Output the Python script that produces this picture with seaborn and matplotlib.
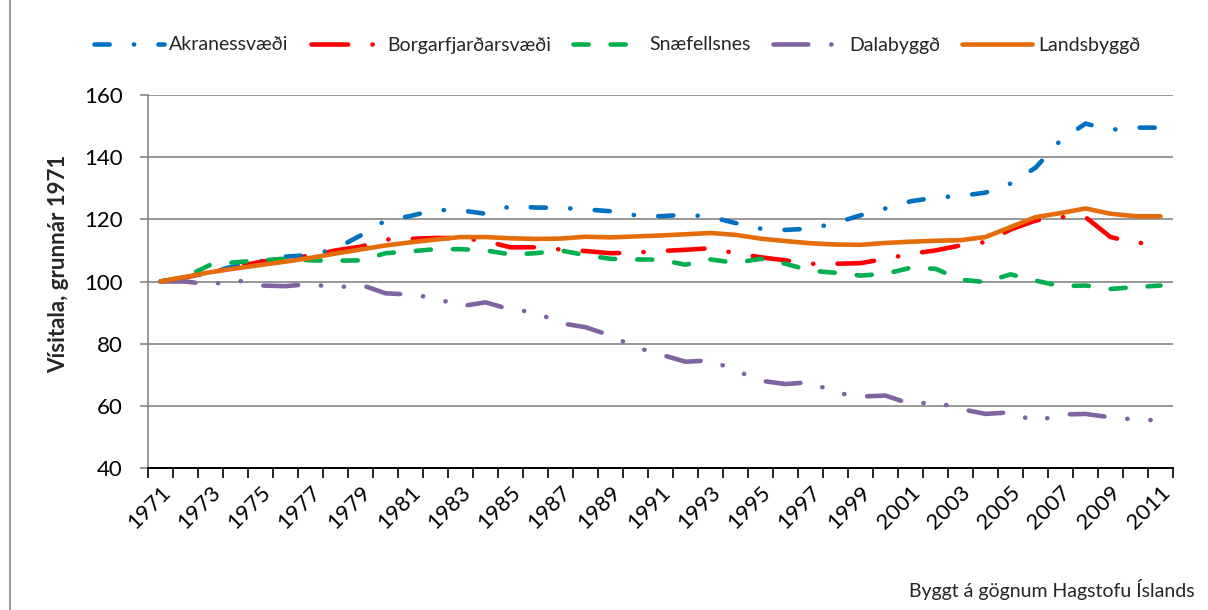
import numpy as np
import pandas as pd
import matplotlib
matplotlib.use("Agg")
import matplotlib.pyplot as plt
import seaborn as sns
from matplotlib.lines import Line2D

years = list(range(1971, 2012))

akranes = [100, 101.0, 103.0, 105.0, 106.5, 108.0, 108.5, 110.5, 114.8, 119.6,
           121.1, 123.0, 122.9, 121.8, 124.2, 123.8, 123.7, 123.2, 122.6, 121.3,
           121.0, 121.5, 120.8, 118.8, 117.0, 116.6, 117.0, 118.8, 121.3, 123.5,
           125.8, 127.0, 127.5, 128.6, 131.5, 136.6, 145.4, 150.8, 148.8, 149.5, 149.5]
borgar = [100, 101.3, 103.0, 104.8, 106.3, 107.5, 108.3, 110.0, 111.2, 113.5,
          113.7, 114.0, 114.0, 113.0, 111.0, 111.0, 110.3, 109.8, 109.1, 109.3,
          109.8, 110.2, 110.7, 109.1, 107.8, 106.8, 105.7, 105.7, 105.9, 107.3,
          108.9, 110.0, 111.6, 112.7, 116.7, 119.6, 120.7, 120.7, 114.3, 112.4, 112.4]
snaef = [100, 101.5, 105.4, 106.2, 106.8, 107.3, 106.8, 106.7, 106.8, 109.1,
         109.7, 110.4, 110.4, 110.0, 108.7, 109.1, 110.0, 108.5, 107.3, 107.1,
         107.0, 105.4, 107.1, 106.0, 107.3, 105.7, 103.5, 102.8, 101.9, 102.5,
         104.4, 104.1, 100.6, 99.8, 102.3, 100.3, 98.5, 98.7, 97.6, 98.2, 98.7]
dala = [100, 100.0, 99.0, 100.5, 98.7, 98.5, 99.2, 98.0, 99.0, 96.2,
        95.8, 94.7, 92.0, 93.3, 91.0, 90.1, 86.6, 85.3, 82.6, 78.9,
        76.5, 74.2, 74.6, 71.4, 68.1, 67.0, 67.6, 64.2, 63.0, 63.3,
        60.6, 61.2, 59.0, 57.4, 57.9, 55.0, 57.2, 57.4, 56.3, 55.6, 55.3]
lands = [100, 101.5, 103.0, 104.2, 105.3, 106.4, 107.6, 109.0, 110.3, 111.6,
         112.6, 113.5, 114.3, 114.3, 113.9, 113.7, 113.8, 114.4, 114.2, 114.5,
         114.8, 115.2, 115.6, 115.0, 113.8, 113.0, 112.3, 111.9, 111.8, 112.4,
         112.8, 113.1, 113.3, 114.3, 117.5, 120.7, 122.0, 123.5, 121.8, 121.0, 121.0]

names = ["Akranessvæði", "Borgarfjarðarsvæði", "Snæfellsnes", "Dalabyggð", "Landsbyggð"]
series = [akranes, borgar, snaef, dala, lands]
colors = ["#0070C0", "#FF0000", "#00B050", "#8064A2", "#E46C0A"]

df = pd.DataFrame({
    "Ár": np.tile(years, len(names)),
    "Vísitala": np.concatenate(series),
    "Svæði": np.repeat(names, len(years)),
})

sns.set_theme(style="white")
plt.rcParams["font.family"] = ["Lato", "DejaVu Sans"]

fig = plt.figure(figsize=(12.08, 6.10), dpi=100)
ax = fig.add_axes([148 / 1208, 1 - 468 / 610, (1173 - 148) / 1208, (468 - 95) / 610])

LW = 3.3
dashes = {
    "Akranessvæði": (3.3, 5.3, 0.05, 5.3),
    "Borgarfjarðarsvæði": (8.0, 5.3, 0.05, 5.3),
    "Snæfellsnes": (3.3, 4.8),
    "Dalabyggð": (7.6, 5.0, 0.05, 5.0, 0.05, 5.0),
    "Landsbyggð": "",
}

sns.lineplot(data=df, x="Ár", y="Vísitala", hue="Svæði", style="Svæði",
             hue_order=names, style_order=names,
             palette=dict(zip(names, colors)), dashes=dashes,
             linewidth=LW, ax=ax, legend=False)

for ln in ax.get_lines():
    ln.set_dash_capstyle("round")
    ln.set_solid_capstyle("round")
    ln.set_solid_joinstyle("round")
    ln.set_dash_joinstyle("round")

ax.set_xlim(1970.5, 2011.5)
ax.set_ylim(40, 160)
ax.set_yticks(range(40, 161, 20))
ax.set_xticks(years[::2])
ax.set_xticks(np.arange(1970.5, 2012, 1), minor=True)
ax.set_xticklabels([str(y) for y in years[::2]], rotation=45, ha="right",
                   va="top", rotation_mode="anchor", fontsize=16)
ax.tick_params(axis="y", labelsize=16, length=6, width=1.2, color="#868686",
               left=True, direction="out", pad=12, labelcolor="black")
ax.tick_params(axis="x", which="major", length=0, pad=10, labelcolor="black")
ax.tick_params(axis="x", which="minor", length=7, width=1.2, color="black",
               bottom=True, direction="out")
ax.grid(axis="y", color="#868686", linewidth=1.2)
ax.set_axisbelow(True)
for s in ["top", "right"]:
    ax.spines[s].set_visible(False)
ax.spines["left"].set_color("#868686")
ax.spines["left"].set_linewidth(1.2)
ax.spines["bottom"].set_color("black")
ax.spines["bottom"].set_linewidth(1.4)

ax.set_xlabel("")
ax.set_ylabel("Vísitala, grunnár 1971", fontsize=16, fontweight="bold")
ax.yaxis.set_label_coords((69 - 148) / 1025, (468 - 264) / 373)

leg_handles = []
for name, c in zip(names, colors):
    d = dashes[name]
    if d:
        h = Line2D([], [], color=c, linewidth=LW, dashes=d, dash_capstyle="round")
    else:
        h = Line2D([], [], color=c, linewidth=LW, solid_capstyle="round")
    leg_handles.append(h)
fig.legend(leg_handles, names, loc="center", bbox_to_anchor=(617 / 1208, 1 - 45 / 610),
           ncol=5, frameon=False, fontsize=14, handlelength=3.6,
           handletextpad=0.3, columnspacing=1.15)

fig.text(1195 / 1208, 1 - 590 / 610, "Byggt á gögnum Hagstofu Íslands",
         ha="right", va="center", fontsize=14)
fig.add_artist(Line2D([10 / 1208, 10 / 1208], [0, 1], color="#868686",
                      linewidth=1.2, transform=fig.transFigure))

fig.savefig("out.png", dpi=100)
